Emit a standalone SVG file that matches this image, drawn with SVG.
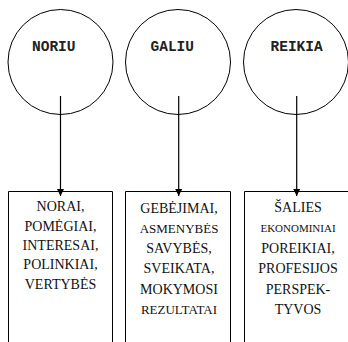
<svg xmlns="http://www.w3.org/2000/svg" width="348" height="342" viewBox="0 0 348 342">
<style>
.c{fill:none;stroke:#000;stroke-width:1}
.b{fill:none;stroke:#000;stroke-width:1}
.h{font-family:"Liberation Mono","Courier New",monospace;font-weight:bold;font-size:14.5px;fill:#222}
.t{font-family:"Liberation Serif","Times New Roman",serif;font-size:14px;fill:#111;text-anchor:middle}
.s{font-size:13px}
.xs{font-size:11px}
.l{stroke:#000;stroke-width:1.2;fill:none}
</style>
<defs>
<marker id="a" markerWidth="8" markerHeight="8" refX="7" refY="4" orient="auto" markerUnits="userSpaceOnUse">
<path d="M0,0.5 L7,4 L0,7.5 Z" fill="#000"/>
</marker>
</defs>
<rect width="348" height="342" fill="#fff"/>
<g id="circle-noriu">
<circle class="c" cx="60.5" cy="62" r="52.5"/>
<text class="h" x="32" y="51">NORIU</text>
</g>
<g id="circle-galiu">
<circle class="c" cx="178" cy="62" r="52.5"/>
<text class="h" x="150.5" y="51">GALIU</text>
</g>
<g id="circle-reikia">
<circle class="c" cx="296" cy="62" r="52.5"/>
<text class="h" x="270.5" y="51">REIKIA</text>
</g>
<g id="box-norai">
<path class="b" d="M8.5,343 V191.5 H112.5 V343"/>
<text class="t" x="60.5" y="211">NORAI,</text>
<text class="t" x="60.5" y="230.5">POMĖGIAI,</text>
<text class="t" x="60.5" y="250">INTERESAI,</text>
<text class="t" x="60.5" y="269.3">POLINKIAI,</text>
<text class="t" x="60.5" y="288.5">VERTYBĖS</text>
</g>
<g id="box-gebejimai">
<path class="b" d="M125.5,343 V191.5 H230.5 V343"/>
<text class="t" x="179" y="212.5">GEBĖJIMAI,</text>
<text class="t s" x="179" y="233">ASMENYBĖS</text>
<text class="t" x="179" y="253.2">SAVYBĖS,</text>
<text class="t" x="179" y="273.3">SVEIKATA,</text>
<text class="t" x="179" y="293.8">MOKYMOSI</text>
<text class="t s" x="179" y="314">REZULTATAI</text>
</g>
<g id="box-salies">
<path class="b" d="M244.5,343 V191.5 H349"/>
<text class="t" x="298" y="211.7">ŠALIES</text>
<text class="t xs" x="298" y="231.5">EKONOMINIAI</text>
<text class="t" x="298" y="252.5">POREIKIAI,</text>
<text class="t" x="298" y="272.7">PROFESIJOS</text>
<text class="t" x="298" y="293.5">PERSPEK-</text>
<text class="t" x="298" y="314.2">TYVOS</text>
</g>
<g id="connectors">
<line class="l" x1="60.5" y1="96" x2="60.5" y2="196" marker-end="url(#a)"/>
<line class="l" x1="178.7" y1="96" x2="178.7" y2="196" marker-end="url(#a)"/>
<line class="l" x1="296.7" y1="96" x2="296.7" y2="196" marker-end="url(#a)"/>
</g>
</svg>
